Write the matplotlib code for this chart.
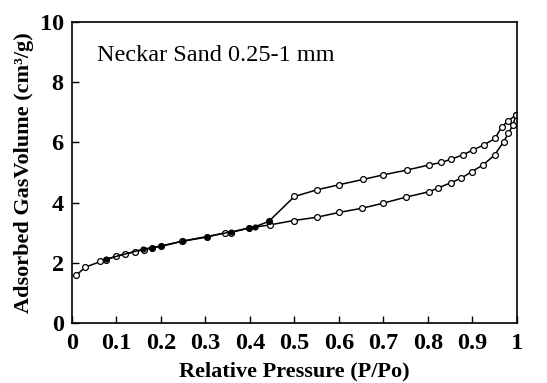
import matplotlib
matplotlib.use("Agg")
import matplotlib.pyplot as plt

# Adsorption branch (lower)
ads_x = [0.010, 0.030, 0.064, 0.077, 0.099, 0.120, 0.141, 0.161, 0.180, 0.200,
         0.247, 0.303, 0.345, 0.357, 0.397, 0.446, 0.498, 0.550, 0.600, 0.652,
         0.700, 0.751, 0.803, 0.822, 0.852, 0.875, 0.899, 0.924, 0.950, 0.970,
         0.981, 0.991, 0.998]
ads_y = [1.59, 1.85, 2.04, 2.10, 2.21, 2.29, 2.36, 2.43, 2.49, 2.54,
         2.71, 2.85, 3.00, 3.00, 3.15, 3.26, 3.40, 3.51, 3.67, 3.81,
         3.98, 4.18, 4.36, 4.48, 4.66, 4.81, 5.03, 5.25, 5.58, 6.02,
         6.30, 6.57, 6.91]

# Desorption branch (upper, hysteresis part)
des_x = [0.998, 0.981, 0.966, 0.951, 0.925, 0.902, 0.878, 0.852, 0.830, 0.803,
         0.753, 0.700, 0.655, 0.600, 0.550, 0.500, 0.442]
des_y = [6.91, 6.72, 6.52, 6.13, 5.91, 5.75, 5.58, 5.44, 5.33, 5.25,
         5.08, 4.92, 4.77, 4.59, 4.42, 4.20, 3.37]

# Desorption branch (low pressure, closed part)
des_low_x = [0.442, 0.412, 0.397, 0.357, 0.303, 0.250, 0.200, 0.180, 0.160, 0.077]
des_low_y = [3.37, 3.20, 3.15, 3.02, 2.87, 2.72, 2.56, 2.50, 2.45, 2.12]

x_ticks = [0, 0.1, 0.2, 0.3, 0.4, 0.5, 0.6, 0.7, 0.8, 0.9, 1]
x_labels = ["0", "0.1", "0.2", "0.3", "0.4", "0.5", "0.6", "0.7", "0.8", "0.9", "1"]
y_ticks = [0, 2, 4, 6, 8, 10]

plt.rcParams['font.family'] = ['Liberation Serif', 'DejaVu Serif']

fig = plt.figure(figsize=(5.47, 3.83), dpi=100)
ax = fig.add_axes([0.1316, 0.157, 0.8134, 0.7856])

ax.plot(ads_x, ads_y, color='black', lw=1.1, marker='o', ms=4.2,
        mfc='white', mec='black', mew=0.9)
ax.plot(des_x, des_y, color='black', lw=1.1, marker='o', ms=4.2,
        mfc='white', mec='black', mew=0.9)
ax.plot(des_low_x, des_low_y, color='black', lw=1.1, marker='o', ms=3.5,
        mfc='black', mec='black', mew=0.9)

ax.set_xlim(0, 1)
ax.set_ylim(0, 10)
ax.set_xticks(x_ticks)
ax.set_xticklabels(x_labels)
ax.set_yticks(y_ticks)
ax.tick_params(direction='in', length=5, width=1, labelsize=17.5)
ax.tick_params(axis='x', pad=7)
ax.tick_params(axis='y', pad=6)
for lab in ax.get_xticklabels() + ax.get_yticklabels():
    lab.set_fontweight('bold')
for s in ax.spines.values():
    s.set_linewidth(1.2)

ax.set_xlabel('Relative Pressure (P/Po)', fontsize=16, fontweight='bold', labelpad=6)
ax.set_ylabel('Adsorbed GasVolume (cm³/g)', fontsize=16, fontweight='bold', labelpad=4)

ax.text(0.056, 8.9, 'Neckar Sand 0.25-1 mm', fontsize=17.5, va='center', ha='left')

fig.savefig('out.png', dpi=100)
